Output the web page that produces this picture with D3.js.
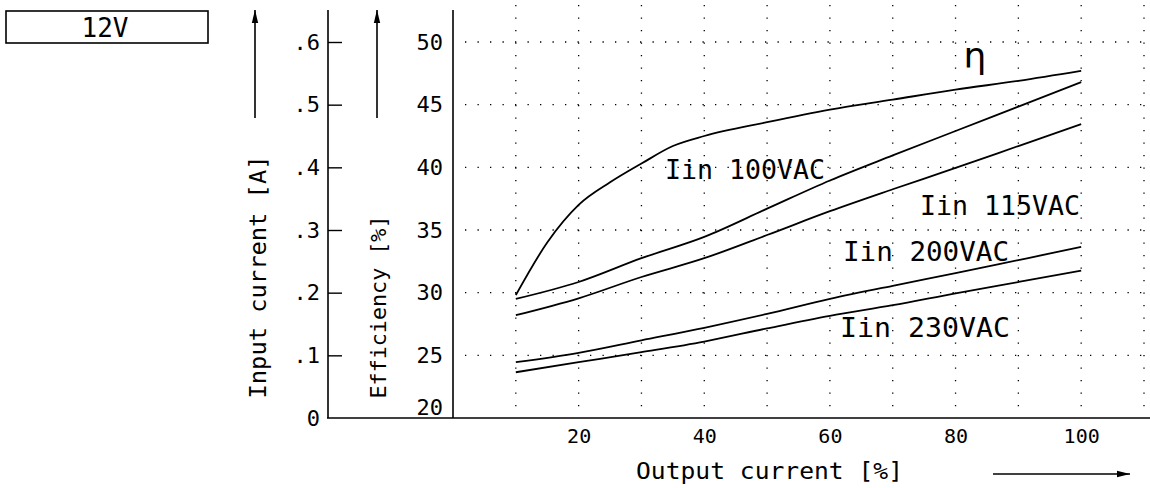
<!DOCTYPE html>
<html>
<head>
<meta charset="utf-8">
<script src="https://cdn.jsdelivr.net/npm/d3@7"></script>
<style>
    body { margin: 0; background: #fff; }
    svg text { font-family: "DejaVu Sans Mono", monospace; fill: #000; }
</style>
</head>
<body>
<div id="chart"><svg></svg></div>
<script>
// values
let outputPct = [10, 20, 30, 40, 50, 60, 70, 80, 90, 100];
let etaPct = [10, 15, 20, 25, 30, 35, 40, 50, 60, 70, 80, 90, 100];
let efficiency = [29.8, 34.0, 37.0, 38.8, 40.3, 41.7, 42.5, 43.6, 44.6, 45.4, 46.2, 46.9, 47.7];
let iin100 = [0.190, 0.217, 0.255, 0.289, 0.334, 0.379, 0.419, 0.458, 0.497, 0.536];
let iin115 = [0.164, 0.191, 0.225, 0.255, 0.292, 0.330, 0.365, 0.399, 0.434, 0.469];
let iin200 = [0.089, 0.104, 0.124, 0.144, 0.166, 0.190, 0.211, 0.231, 0.252, 0.273];
let iin230 = [0.073, 0.089, 0.105, 0.122, 0.143, 0.163, 0.180, 0.199, 0.217, 0.235];
let currentTicks = [0, 0.1, 0.2, 0.3, 0.4, 0.5, 0.6];
let effTicks = [20, 25, 30, 35, 40, 45, 50];
let xTicks = [20, 40, 60, 80, 100];
let gridX = [10, 20, 30, 40, 50, 60, 70, 80, 90, 100, 110];
let gridEff = [25, 30, 35, 40, 45, 50];

let width = 1150, height = 488;
let svg = d3.select("#chart").select("svg")
    .attr("width", width)
    .attr("height", height);

let x = d3.scaleLinear().domain([0, 110]).range([453, 1144]);
let yCur = d3.scaleLinear().domain([0, 0.6]).range([418, 42]);
let yEff = d3.scaleLinear().domain([20, 50]).range([418, 42]);

// dotted grid
svg.append("g").selectAll("line").data(gridEff).enter().append("line")
    .attr("x1", 465).attr("x2", 1150)
    .attr("y1", d => yEff(d)).attr("y2", d => yEff(d))
    .attr("stroke", "#000").attr("stroke-width", 1.3)
    .attr("stroke-dasharray", "1.3,11.2");
svg.append("g").selectAll("line").data(gridX).enter().append("line")
    .attr("x1", d => x(d)).attr("x2", d => x(d))
    .attr("y1", 5).attr("y2", 412)
    .attr("stroke", "#000").attr("stroke-width", 1.3)
    .attr("stroke-dasharray", "1.3,11.2");

// axis lines
let frame = svg.append("g").attr("stroke", "#000").attr("stroke-width", 1.6);
frame.append("line").attr("x1", 328).attr("x2", 328).attr("y1", 10).attr("y2", 418);
frame.append("line").attr("x1", 453).attr("x2", 453).attr("y1", 10).attr("y2", 418);
frame.append("line").attr("x1", 327).attr("x2", 1150).attr("y1", 418).attr("y2", 418);

// input current axis
let curAxis = svg.append("g")
    .attr("transform", "translate(328,0)")
    .call(d3.axisLeft(yCur).tickValues(currentTicks)
        .tickSizeInner(-14).tickSizeOuter(0).tickPadding(8)
        .tickFormat(d => d === 0 ? "0" : d3.format(".1f")(d).replace("0.", ".")));
curAxis.select(".domain").remove();
curAxis.selectAll("line").attr("stroke-width", 1.4);
curAxis.selectAll("text").style("font-size", "22px").attr("font-family", null);
curAxis.selectAll(".tick").filter(d => d === 0).select("line").remove();

// efficiency axis
let effAxis = svg.append("g")
    .attr("transform", "translate(453,0)")
    .call(d3.axisLeft(yEff).tickValues(effTicks).tickSize(0).tickPadding(10));
effAxis.select(".domain").remove();
effAxis.selectAll("text").style("font-size", "22px").attr("font-family", null);
effAxis.selectAll(".tick").filter(d => d === 20).select("text").attr("y", -11);

// output current axis
let xAxis = svg.append("g")
    .attr("transform", "translate(0,418)")
    .call(d3.axisBottom(x).tickValues(xTicks).tickSize(0).tickPadding(11));
xAxis.select(".domain").remove();
xAxis.selectAll("text").style("font-size", "20px").attr("font-family", null);

// curves
let effLine = d3.line()
    .x((d, i) => x(etaPct[i]))
    .y(d => yEff(d))
    .curve(d3.curveMonotoneX);
let curLine = d3.line()
    .x((d, i) => x(outputPct[i]))
    .y(d => yCur(d))
    .curve(d3.curveMonotoneX);

svg.append("path").datum(efficiency)
    .attr("d", effLine)
    .attr("fill", "none").attr("stroke", "#000").attr("stroke-width", 1.8);
svg.append("g").selectAll("path").data([iin100, iin115, iin200, iin230]).enter()
    .append("path")
    .attr("d", curLine)
    .attr("fill", "none").attr("stroke", "#000").attr("stroke-width", 1.8);

// curve labels
let labels = [
    {text: "Iin 100VAC", x: 665, y: 179, len: 160},
    {text: "Iin 115VAC", x: 920, y: 215, len: 160},
    {text: "Iin 200VAC", x: 843, y: 261, len: 166},
    {text: "Iin 230VAC", x: 840, y: 337, len: 170}
];
svg.append("g").selectAll("text").data(labels).enter().append("text")
    .attr("x", d => d.x).attr("y", d => d.y)
    .attr("textLength", d => d.len).attr("lengthAdjust", "spacingAndGlyphs")
    .style("font-size", "26px")
    .text(d => d.text);

svg.append("text")
    .attr("x", 975).attr("y", 68)
    .attr("text-anchor", "middle")
    .style("font-family", "DejaVu Sans")
    .style("font-size", "36px")
    .text("η");

// axis titles
svg.append("text")
    .attr("transform", "translate(266,277) rotate(-90)")
    .attr("text-anchor", "middle")
    .attr("textLength", 243).attr("lengthAdjust", "spacingAndGlyphs")
    .style("font-size", "23px")
    .text("Input current [A]");
svg.append("text")
    .attr("transform", "translate(386,307) rotate(-90)")
    .attr("text-anchor", "middle")
    .attr("textLength", 183).attr("lengthAdjust", "spacingAndGlyphs")
    .style("font-size", "22px")
    .text("Efficiency [%]");
svg.append("text")
    .attr("x", 636).attr("y", 479)
    .attr("textLength", 267).attr("lengthAdjust", "spacingAndGlyphs")
    .style("font-size", "23px")
    .text("Output current [%]");

// arrows: shaft plus a drawn head
let arrows = [
    {x1: 255, y1: 118, x2: 255, y2: 10},
    {x1: 377, y1: 118, x2: 377, y2: 10},
    {x1: 993, y1: 474, x2: 1130, y2: 474}
];
let arrowG = svg.append("g");
arrowG.selectAll("line").data(arrows).enter().append("line")
    .attr("x1", d => d.x1).attr("y1", d => d.y1)
    .attr("x2", d => d.x2).attr("y2", d => d.y2)
    .attr("stroke", "#000").attr("stroke-width", 1.6);
arrowG.selectAll("path").data(arrows).enter().append("path")
    .attr("d", function(d) {
        let a = Math.atan2(d.y2 - d.y1, d.x2 - d.x1);
        let len = 13, half = 3.2;
        let bx = d.x2 - len * Math.cos(a), by = d.y2 - len * Math.sin(a);
        let px = -Math.sin(a) * half, py = Math.cos(a) * half;
        return "M" + d.x2 + "," + d.y2 + "L" + (bx + px) + "," + (by + py) +
            "L" + (bx - px) + "," + (by - py) + "Z";
    })
    .attr("fill", "#000");

// voltage box
svg.append("rect")
    .attr("x", 6).attr("y", 11).attr("width", 202).attr("height", 32)
    .attr("fill", "none").attr("stroke", "#000").attr("stroke-width", 1.6);
svg.append("text")
    .attr("x", 105).attr("y", 37)
    .attr("text-anchor", "middle")
    .style("font-size", "26px")
    .text("12V");
</script>
</body>
</html>
